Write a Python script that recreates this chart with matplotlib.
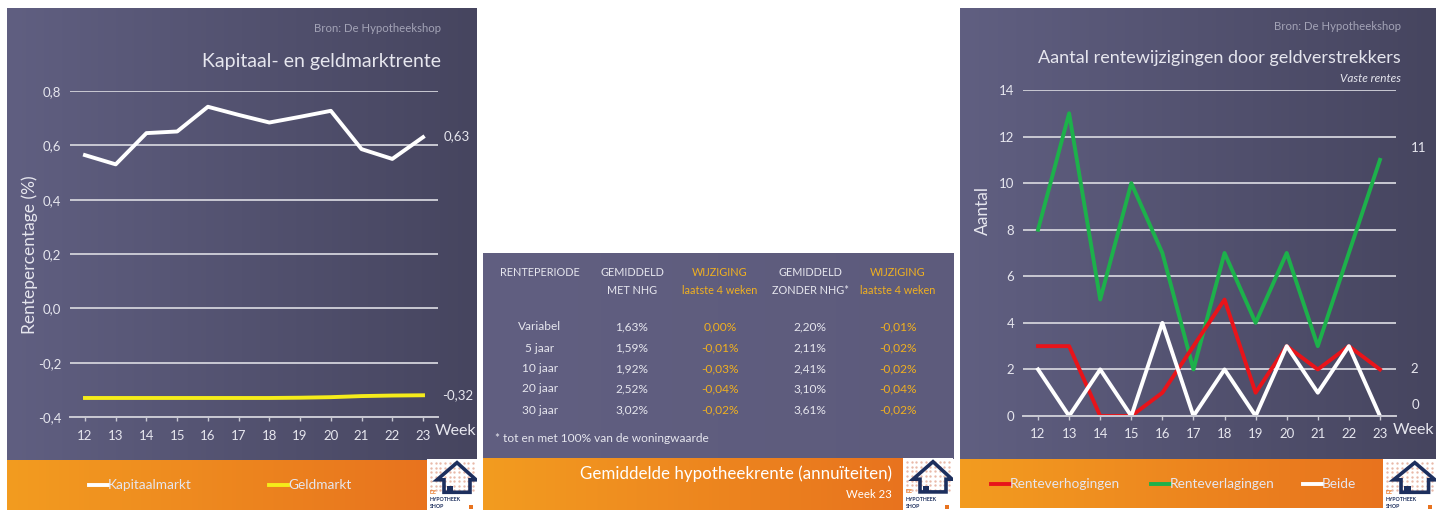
"""Weekly mortgage-rate dashboard: three panels side by side."""

import matplotlib.pyplot as plt
import numpy as np
from matplotlib.patches import Polygon, Rectangle
from matplotlib.ticker import FuncFormatter

W, H = 1440, 518

weeks = [12, 13, 14, 15, 16, 17, 18, 19, 20, 21, 22, 23]
kapitaalmarkt = [0.564, 0.53, 0.645, 0.651, 0.742, 0.712, 0.684, 0.705, 0.727, 0.586, 0.55, 0.63]
geldmarkt = [-0.33, -0.33, -0.33, -0.33, -0.33, -0.33, -0.33, -0.329, -0.327, -0.323, -0.321, -0.32]

verhogingen = [3, 3, 0, 0, 1, 3, 5, 1, 3, 2, 3, 2]
verlagingen = [8, 13, 5, 10, 7, 2, 7, 4, 7, 3, 7, 11]
beide = [2, 0, 2, 0, 4, 0, 2, 0, 3, 1, 3, 0]

table_header = [
    ("RENTEPERIODE", ""),
    ("GEMIDDELD", "MET NHG"),
    ("WIJZIGING", "laatste 4 weken"),
    ("GEMIDDELD", "ZONDER NHG*"),
    ("WIJZIGING", "laatste 4 weken"),
]
periods = ["Variabel", "5 jaar", "10 jaar", "20 jaar", "30 jaar"]
rate_met_nhg = ["1,63%", "1,59%", "1,92%", "2,52%", "3,02%"]
change_met_nhg = ["0,00%", "-0,01%", "-0,03%", "-0,04%", "-0,02%"]
rate_zonder_nhg = ["2,20%", "2,11%", "2,41%", "3,10%", "3,61%"]
change_zonder_nhg = ["-0,01%", "-0,02%", "-0,02%", "-0,04%", "-0,02%"]

FONT = "Lato"
TXT = "#e6e6ee"
GRID = "#c9c9d3"
GOLD = "#f0b020"
NAVY = "#1d2f5e"

plt.rcParams["font.family"] = [FONT, "DejaVu Sans"]

fig = plt.figure(figsize=(W / 100, H / 100), dpi=100)
fig.patch.set_facecolor("white")


def box(x0, y0, x1, y1):
    """Pixel box (top-left origin) -> figure rect."""
    return [x0 / W, 1 - y1 / H, (x1 - x0) / W, (y1 - y0) / H]


def fx(x):
    return x / W


def fy(y):
    return 1 - y / H


def gradient(x0, y0, x1, y1, left, right, zorder=0):
    ax = fig.add_axes(box(x0, y0, x1, y1), zorder=zorder)
    c0 = np.array(plt.matplotlib.colors.to_rgb(left))
    c1 = np.array(plt.matplotlib.colors.to_rgb(right))
    t = np.linspace(0, 1, 200)[None, :, None]
    img = c0 + (c1 - c0) * t
    ax.imshow(img, aspect="auto", extent=(0, 1, 0, 1))
    ax.axis("off")
    return ax


def logo(x0, y0, x1, y1):
    ax = fig.add_axes(box(x0, y0, x1, y1), zorder=3)
    ax.set_xlim(0, 1)
    ax.set_ylim(0, 1)
    ax.axis("off")
    ax.add_patch(Rectangle((0, 0), 1, 1, facecolor="white", edgecolor="none"))
    # faint dotted grid in the background
    gx, gy = np.meshgrid(np.linspace(0.08, 0.92, 10), np.linspace(0.4, 0.92, 7))
    ax.scatter(gx.ravel(), gy.ravel(), s=0.5, color="#e8b8a8", zorder=1)
    house = Polygon([(0.2, 0.6), (0.6, 0.93), (0.98, 0.6), (0.86, 0.6),
                     (0.86, 0.36), (0.34, 0.36), (0.34, 0.6)],
                    closed=True, facecolor="none", edgecolor=NAVY, linewidth=2.6,
                    joinstyle="miter", zorder=2)
    ax.add_patch(house)
    ax.add_patch(Rectangle((0.4, 0.36), 0.12, 0.12, facecolor=NAVY, zorder=3))
    ax.text(0.05, 0.36, "DE", color="#e8731f", fontsize=3.8, fontweight="bold", va="center")
    ax.text(0.05, 0.22, "HYPOTHEEK", color=NAVY, fontsize=3.8, fontweight="bold", va="center")
    ax.text(0.05, 0.09, "SHOP", color=NAVY, fontsize=3.8, fontweight="bold", va="center")
    ax.add_patch(Rectangle((0.84, 0.03), 0.08, 0.08, facecolor="#e8731f", zorder=3))


def style_axes(ax, ylim, yticks, fmt):
    ax.set_facecolor("none")
    ax.set_xlim(11.5, 23.5)
    ax.set_ylim(*ylim)
    ax.set_xticks(weeks)
    ax.set_yticks(yticks)
    ax.yaxis.set_major_formatter(FuncFormatter(fmt))
    for s in ["top", "right", "left"]:
        ax.spines[s].set_visible(False)
    ax.spines["bottom"].set_color(GRID)
    ax.spines["bottom"].set_linewidth(1.4)
    ax.tick_params(axis="x", colors=GRID, labelcolor=TXT, labelsize=9.5,
                   length=3, width=1, direction="out", pad=6)
    ax.tick_params(axis="y", length=0, labelcolor=TXT, labelsize=9.5, pad=6)
    ax.grid(axis="y", color=GRID, linewidth=1.4)
    ax.set_axisbelow(True)


def legend_entry(x, y, color, label):
    fig.add_artist(plt.Line2D([fx(x), fx(x + 19)], [fy(y), fy(y)], color=color,
                              linewidth=2.8, transform=fig.transFigure))
    fig.text(fx(x + 19), fy(y), label, color=TXT, fontsize=9.8, va="center", ha="left")


# ---------- Panel 1: kapitaal- en geldmarktrente ----------
gradient(7, 8, 477, 460, "#605f81", "#46455f")
gradient(7, 460, 427, 510, "#f39c20", "#e8731e")
logo(427, 459, 477, 511)

ax1 = fig.add_axes(box(69.6, 91, 438.4, 417), zorder=2)
style_axes(ax1, (-0.4, 0.8), [-0.4, -0.2, 0.0, 0.2, 0.4, 0.6, 0.8],
           lambda v, _: f"{v:.1f}".replace(".", ",").replace("-0,0", "0,0"))
ax1.plot(weeks, kapitaalmarkt, color="white", linewidth=2.8)
ax1.plot(weeks, geldmarkt, color="#f5ec1a", linewidth=2.8)
ax1.annotate(f"{kapitaalmarkt[-1]:.2f}".replace(".", ","), (weeks[-1], kapitaalmarkt[-1]),
             xytext=(15, 1), textcoords="offset points", color=TXT, fontsize=9.5, va="center")
ax1.annotate(f"{geldmarkt[-1]:.2f}".replace(".", ","), (weeks[-1], geldmarkt[-1]),
             xytext=(14, 0), textcoords="offset points", color=TXT, fontsize=9.5, va="center")
fig.text(fx(441), fy(29), "Bron: De Hypotheekshop", color="#a3a3b6", fontsize=8.2,
         ha="right", va="center")
fig.text(fx(441), fy(62), "Kapitaal- en geldmarktrente", color=TXT, fontsize=14,
         ha="right", va="center")
fig.text(fx(30), fy(255), "Rentepercentage (%)", color=TXT, fontsize=12.5,
         rotation=90, ha="center", va="center")
fig.text(fx(435), fy(431), "Week", color=TXT, fontsize=11.5, ha="left", va="center")
legend_entry(89, 485, "white", "Kapitaalmarkt")
legend_entry(269, 485, "#f5ec1a", "Geldmarkt")

# ---------- Panel 2: gemiddelde hypotheekrente ----------
gradient(483, 253, 953, 459, "#615f81", "#5d5b7c")
gradient(483, 458, 903, 510, "#f39c20", "#e8731e")
logo(903, 458, 953, 511)

col_x = [540, 632, 720, 810, 898]
for i, (top, bottom) in enumerate(table_header):
    color = GOLD if top == "WIJZIGING" else TXT
    fig.text(fx(col_x[i]), fy(272), top, color=color, fontsize=7.8, ha="center", va="center")
    if bottom:
        fig.text(fx(col_x[i]), fy(291), bottom, color=color, fontsize=7.8,
                 ha="center", va="center")
row_y = [327, 348, 369, 389, 410]
columns = [periods, rate_met_nhg, change_met_nhg, rate_zonder_nhg, change_zonder_nhg]
for ci, col in enumerate(columns):
    color = GOLD if ci in (2, 4) else TXT
    for ri, val in enumerate(col):
        fig.text(fx(col_x[ci]), fy(row_y[ri]), val, color=color, fontsize=8.6,
                 ha="center", va="center")
fig.text(fx(495), fy(439), "* tot en met 100% van de woningwaarde", color=TXT,
         fontsize=8.6, ha="left", va="center")
fig.text(fx(892), fy(474), "Gemiddelde hypotheekrente (annuïteiten)", color="white",
         fontsize=12.2, ha="right", va="center")
fig.text(fx(892), fy(495), "Week 23", color="white", fontsize=8.2, ha="right", va="center")

# ---------- Panel 3: aantal rentewijzigingen ----------
gradient(960, 8, 1436, 460, "#605f81", "#46455f")
gradient(960, 459, 1383, 508, "#f39c20", "#e8731e")
logo(1383, 459, 1436, 511)

ax3 = fig.add_axes(box(1022.5, 90, 1395.5, 416), zorder=2)
style_axes(ax3, (0, 14), [0, 2, 4, 6, 8, 10, 12, 14], lambda v, _: f"{v:.0f}")
ax3.plot(weeks, verlagingen, color="#1db14b", linewidth=2.8)
ax3.plot(weeks, verhogingen, color="#e8141a", linewidth=2.8)
ax3.plot(weeks, beide, color="white", linewidth=2.8)
ax3.annotate(str(verlagingen[-1]), (weeks[-1], verlagingen[-1]), xytext=(22, 4),
             textcoords="offset points", color=TXT, fontsize=9.5, va="bottom")
ax3.annotate(str(verhogingen[-1]), (weeks[-1], verhogingen[-1]), xytext=(22, 0),
             textcoords="offset points", color=TXT, fontsize=9.5, va="center")
ax3.annotate(str(beide[-1]), (weeks[-1], beide[-1]), xytext=(23, 8),
             textcoords="offset points", color=TXT, fontsize=9.5, va="center")
fig.text(fx(1401), fy(26), "Bron: De Hypotheekshop", color="#a3a3b6", fontsize=8.2,
         ha="right", va="center")
fig.text(fx(1401), fy(58), "Aantal rentewijzigingen door geldverstrekkers", color=TXT,
         fontsize=13, ha="right", va="center")
fig.text(fx(1401), fy(78), "Vaste rentes", color=TXT, fontsize=8.5, style="italic",
         ha="right", va="center")
fig.text(fx(983), fy(210), "Aantal", color=TXT, fontsize=12.5, rotation=90,
         ha="center", va="center")
fig.text(fx(1393), fy(430), "Week", color=TXT, fontsize=11.5, ha="left", va="center")
legend_entry(991, 484, "#e8141a", "Renteverhogingen")
legend_entry(1151, 484, "#1db14b", "Renteverlagingen")
legend_entry(1303, 484, "white", "Beide")

fig.savefig("out.png", dpi=100, facecolor="white")
